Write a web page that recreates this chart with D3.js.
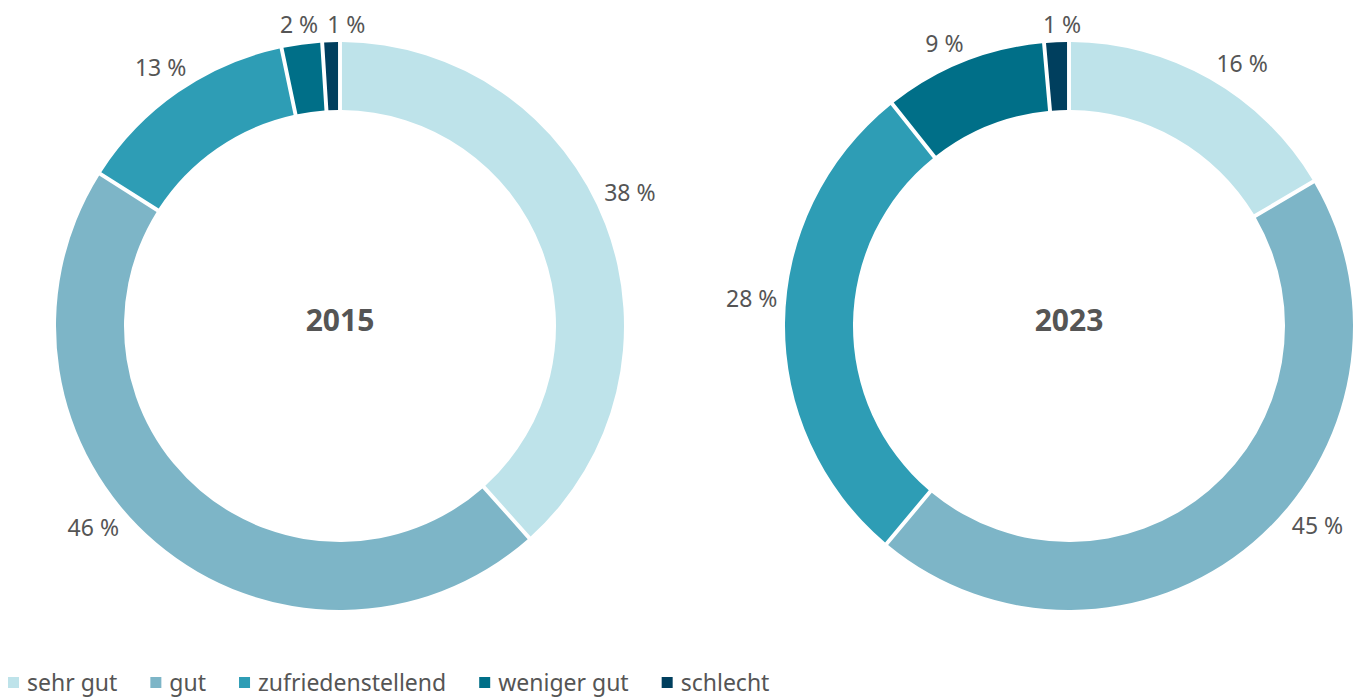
<!DOCTYPE html>
<html>
<head>
<meta charset="utf-8">
<script src="https://cdn.jsdelivr.net/npm/d3@7"></script>
<style>
  body { margin: 0; background: #fff; }
  svg { display: block; font-family: "Noto Sans", sans-serif; }
</style>
</head>
<body>
<div id="chart"></div>
<script>
const width = 1362;
const height = 697;

// categories and values (share in %)
const categories = ['sehr gut', 'gut', 'zufriedenstellend', 'weniger gut', 'schlecht'];
const colors = ['#bee3ea', '#7db5c7', '#2e9db5', '#006f88', '#003f5e'];
const years = ['2015', '2023'];
const values2015 = [38.4, 45.6, 12.7, 2.3, 1.0];
const values2023 = [16.5, 44.6, 28.2, 9.3, 1.4];
const labels2015 = ['38 %', '46 %', '13 %', '2 %', '1 %'];
const labels2023 = ['16 %', '45 %', '28 %', '9 %', '1 %'];

// label angle tweaks (degrees) so labels sit where the original put them
const nudge2015 = [-4, 10.5, 0, 0, 3];
const nudge2023 = [3.7, -11, 4.3, -2, 1.2];

const outerR = 284;
const innerR = 216;
const labelGap = 8;
const cy = 326;
const centers = [340, 1069];

const svg = d3.select('#chart').append('svg')
    .attr('width', width)
    .attr('height', height);

const pie = d3.pie().sort(null).value(d => d);
const arc = d3.arc().innerRadius(innerR).outerRadius(outerR).padAngle(0.011);

const series = [
    { year: years[0], values: values2015, labels: labels2015, nudge: nudge2015 },
    { year: years[1], values: values2023, labels: labels2023, nudge: nudge2023 }
];

series.forEach((s, i) => {
    const g = svg.append('g').attr('transform', `translate(${centers[i]},${cy})`);
    const arcs = pie(s.values);

    g.selectAll('path')
        .data(arcs)
        .join('path')
        .attr('d', arc)
        .attr('fill', (d, j) => colors[j]);

    // labels: placed just outside the ring, pushed out by their own box size
    g.selectAll('text.lbl')
        .data(arcs)
        .join('text')
        .attr('class', 'lbl')
        .attr('text-anchor', 'middle')
        .attr('dominant-baseline', 'central')
        .attr('font-size', 23)
        .attr('fill', '#555')
        .text((d, j) => s.labels[j])
        .each(function (d, j) {
            const a = (d.startAngle + d.endAngle) / 2 + s.nudge[j] * Math.PI / 180;
            const hw = this.getComputedTextLength() / 2;
            const hh = 10;
            const r = outerR + labelGap + Math.abs(Math.sin(a)) * hw + Math.abs(Math.cos(a)) * hh;
            d3.select(this)
                .attr('x', Math.sin(a) * r)
                .attr('y', -Math.cos(a) * r);
        });

    g.append('text')
        .attr('y', -7)
        .attr('text-anchor', 'middle')
        .attr('dominant-baseline', 'central')
        .attr('font-size', 30)
        .attr('font-weight', 'bold')
        .attr('fill', '#555')
        .text(s.year);
});

// legend
const legend = svg.append('g').attr('transform', `translate(8, 682)`);
let lx = 0;
categories.forEach((c, j) => {
    const item = legend.append('g').attr('transform', `translate(${lx},0)`);
    item.append('rect')
        .attr('x', 0).attr('y', -5)
        .attr('width', 11).attr('height', 11)
        .attr('fill', colors[j]);
    const t = item.append('text')
        .attr('x', 19)
        .attr('dominant-baseline', 'central')
        .attr('font-size', 23)
        .attr('fill', '#555')
        .text(c);
    lx += 19 + t.node().getComputedTextLength() + 33;
});
</script>
</body>
</html>
